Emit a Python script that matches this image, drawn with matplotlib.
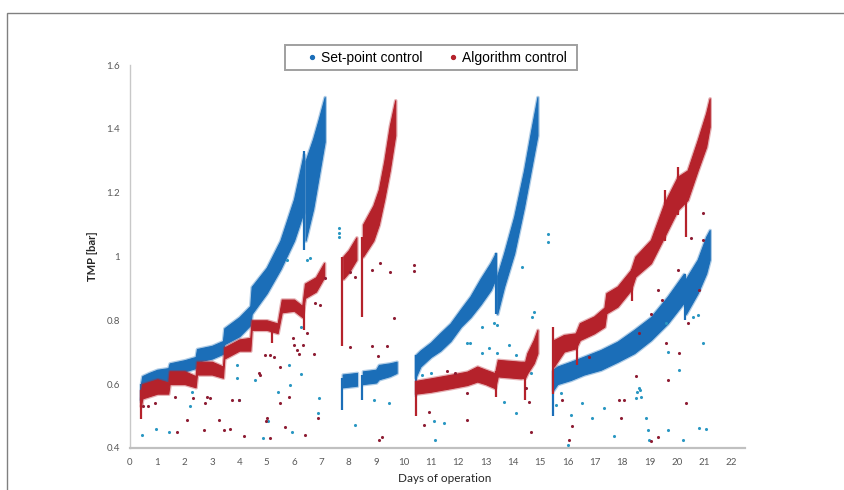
import numpy as np
import matplotlib
matplotlib.use("Agg")
import matplotlib.pyplot as plt
from matplotlib.lines import Line2D
from matplotlib.patches import Rectangle

# TMP bands: (day, lower edge, upper edge)
SP_RUN1A = [(0.40, 0.55, 0.60), (0.45, 0.59, 0.625), (0.7, 0.60, 0.635), (1.0, 0.605, 0.645),
            (1.4, 0.61, 0.65), (1.45, 0.63, 0.665), (2.0, 0.64, 0.675), (2.4, 0.65, 0.685),
            (2.45, 0.67, 0.71), (3.0, 0.68, 0.72), (3.4, 0.695, 0.735), (3.45, 0.725, 0.775),
            (4.0, 0.75, 0.81), (4.4, 0.785, 0.845), (4.45, 0.82, 0.905), (5.0, 0.885, 0.965),
            (5.5, 0.96, 1.05), (6.0, 1.05, 1.18), (6.35, 1.14, 1.32)]
SP_RUN1B = [(6.42, 1.05, 1.30), (6.7, 1.15, 1.37), (6.9, 1.25, 1.43), (7.12, 1.36, 1.50)]
SP_RUN2A = [(7.78, 0.59, 0.63), (8.0, 0.592, 0.632), (8.3, 0.595, 0.635)]
SP_RUN2B = [(8.52, 0.60, 0.64), (9.0, 0.605, 0.645), (9.1, 0.615, 0.66), (9.5, 0.625, 0.665),
            (9.75, 0.635, 0.67)]
SP_RUN3A = [(10.44, 0.62, 0.69), (10.62, 0.655, 0.705), (11.0, 0.685, 0.73), (11.35, 0.705, 0.76),
            (11.72, 0.735, 0.79), (12.1, 0.78, 0.835), (12.45, 0.81, 0.875), (12.82, 0.85, 0.93),
            (13.19, 0.895, 0.98), (13.37, 0.93, 1.01)]
SP_RUN3B = [(13.43, 0.82, 0.94), (13.68, 0.905, 1.01), (14.05, 1.01, 1.125), (14.41, 1.155, 1.27),
            (14.66, 1.27, 1.39), (14.9, 1.38, 1.50)]
SP_RUN4A = [(15.47, 0.58, 0.645), (15.63, 0.60, 0.655), (16.12, 0.613, 0.67), (16.6, 0.63, 0.686),
            (17.22, 0.645, 0.707), (17.83, 0.67, 0.733), (18.44, 0.697, 0.77), (19.05, 0.738, 0.81),
            (19.66, 0.79, 0.874), (20.25, 0.855, 0.945)]
SP_RUN4B = [(20.33, 0.82, 0.93), (20.76, 0.885, 0.99), (21.07, 0.947, 1.062), (21.2, 0.99, 1.083)]

AC_RUN1 = [(0.40, 0.53, 0.58), (0.45, 0.555, 0.60), (1.0, 0.57, 0.615), (1.4, 0.57, 0.605),
           (1.45, 0.60, 0.64), (2.0, 0.60, 0.64), (2.4, 0.59, 0.625), (2.45, 0.63, 0.67),
           (3.0, 0.63, 0.67), (3.4, 0.62, 0.655), (3.45, 0.68, 0.715), (4.0, 0.705, 0.74),
           (4.4, 0.705, 0.745), (4.45, 0.77, 0.80), (5.0, 0.77, 0.80), (5.4, 0.76, 0.79),
           (5.55, 0.825, 0.865), (6.0, 0.83, 0.865), (6.3, 0.81, 0.845), (6.4, 0.87, 0.915),
           (6.8, 0.89, 0.935), (7.1, 0.935, 0.98)]
AC_RUN2A = [(7.8, 0.93, 1.0), (8.0, 0.95, 1.02), (8.28, 0.99, 1.06)]
AC_RUN2B = [(8.52, 1.0, 1.10), (8.9, 1.05, 1.16), (9.1, 1.10, 1.21), (9.3, 1.18, 1.30),
            (9.5, 1.27, 1.41), (9.7, 1.38, 1.49)]
AC_RUN3 = [(10.45, 0.57, 0.61), (11.0, 0.576, 0.618), (11.72, 0.587, 0.629), (12.33, 0.597, 0.639),
           (12.7, 0.608, 0.655), (13.0, 0.60, 0.645), (13.35, 0.587, 0.634), (13.45, 0.624, 0.676),
           (14.29, 0.618, 0.67), (14.45, 0.62, 0.67), (14.53, 0.634, 0.697), (14.77, 0.666, 0.739),
           (14.9, 0.697, 0.77)]
AC_RUN4 = [(15.5, 0.655, 0.738), (15.87, 0.702, 0.754), (16.3, 0.712, 0.759), (16.45, 0.738, 0.791),
           (16.97, 0.759, 0.812), (17.35, 0.78, 0.84), (17.42, 0.822, 0.885), (17.83, 0.843, 0.906),
           (18.32, 0.895, 0.958), (18.48, 0.937, 1.0), (19.05, 0.979, 1.052), (19.54, 1.062, 1.167),
           (20.03, 1.146, 1.25), (20.39, 1.177, 1.27), (20.76, 1.27, 1.365), (21.07, 1.344, 1.45),
           (21.2, 1.407, 1.496)]

# vertical streaks (start-up and cleaning drops): (day, low, high)
SP_STREAKS = [(0.42, 0.54, 0.60), (6.38, 1.02, 1.33), (7.76, 0.52, 0.62), (8.5, 0.55, 0.63),
              (10.45, 0.56, 0.69), (13.4, 0.82, 1.01), (15.46, 0.50, 0.64), (20.28, 0.80, 0.945)]
AC_STREAKS = [(0.42, 0.49, 0.58), (5.2, 0.73, 0.79), (6.35, 0.77, 0.85), (7.77, 0.72, 1.0),
              (8.5, 0.81, 1.06), (10.45, 0.50, 0.61), (13.4, 0.56, 0.64), (14.45, 0.55, 0.66),
              (15.46, 0.57, 0.78), (16.35, 0.66, 0.76), (18.35, 0.86, 0.96), (19.55, 1.05, 1.21),
              (20.05, 1.13, 1.28), (20.35, 1.06, 1.25)]

# scattered single readings
SP_OUT_DAY = [0.43, 0.95, 1.44, 2.2, 2.26, 3.91, 3.91, 3.97, 4.58, 4.86, 5.04, 5.43, 5.8, 5.86,
              5.92, 5.98, 5.74, 6.25, 6.25, 6.86, 6.9, 6.47, 6.6, 7.63, 7.63, 7.63, 8.24, 8.91,
              9.46, 10.68, 10.99, 11.11, 11.48, 11.15, 12.33, 12.45, 12.88, 13.13, 13.43, 12.88,
              13.31, 13.43, 13.86, 14.1, 14.35, 14.71, 14.77, 14.65, 13.67, 14.1, 15.3, 15.3,
              15.57, 15.75, 16.12, 16.0, 16.54, 16.9, 17.34, 17.7, 18.5, 18.55, 18.6, 18.65,
              18.7, 18.87, 18.93, 18.99, 19.66, 20.58, 20.76, 20.94, 20.82, 21.06, 19.6, 19.66,
              20.09, 20.21]
SP_OUT_TMP = [0.44, 0.46, 0.45, 0.53, 0.576, 0.66, 0.618, 0.55, 0.613, 0.43, 0.483, 0.576, 0.66,
              0.597, 0.45, 0.84, 0.99, 0.778, 0.632, 0.508, 0.555, 0.99, 0.995, 1.09, 1.075, 1.06,
              0.472, 0.55, 0.54, 0.63, 0.634, 0.483, 0.478, 0.425, 0.728, 0.728, 0.697, 0.712,
              0.697, 0.78, 0.79, 0.785, 0.723, 0.69, 0.968, 0.81, 0.827, 0.634, 0.545, 0.509,
              1.072, 1.047, 0.535, 0.571, 0.503, 0.41, 0.54, 0.493, 0.525, 0.436, 0.555, 0.575,
              0.587, 0.58, 0.56, 0.493, 0.457, 0.425, 0.457, 0.81, 0.816, 0.728, 0.462, 0.459,
              0.79, 0.702, 0.645, 0.425]

AC_OUT_DAY = [0.49, 0.67, 0.92, 1.65, 1.73, 2.08, 2.32, 2.69, 2.75, 2.81, 2.93, 3.24, 3.45, 3.66,
              3.72, 4.0, 4.18, 4.7, 4.76, 4.95, 5.01, 4.97, 5.13, 5.13, 5.25, 5.5, 5.5, 5.68, 5.8,
              5.95, 5.98, 6.1, 6.17, 6.32, 6.47, 6.41, 6.78, 6.86, 6.96, 7.14, 6.72, 8.06, 8.24,
              8.85, 9.16, 9.52, 9.64, 8.06, 8.85, 9.07, 9.4, 9.1, 9.22, 10.37, 10.37, 10.74, 10.93,
              11.6, 11.9, 12.33, 12.33, 14.47, 14.59, 14.65, 15.81, 16.06, 16.18, 16.79, 17.89,
              18.07, 17.95, 18.5, 18.62, 19.05, 19.3, 19.47, 19.6, 19.66, 20.03, 20.33, 20.09,
              20.39, 20.82, 20.94, 20.94, 20.5, 19.05, 19.3]
AC_OUT_TMP = [0.53, 0.53, 0.54, 0.56, 0.45, 0.488, 0.555, 0.455, 0.54, 0.56, 0.555, 0.488, 0.455,
              0.46, 0.55, 0.55, 0.438, 0.634, 0.628, 0.69, 0.493, 0.483, 0.69, 0.43, 0.685, 0.654,
              0.54, 0.465, 0.56, 0.743, 0.722, 0.706, 0.695, 0.722, 0.76, 0.44, 0.854, 0.493,
              0.849, 0.932, 0.695, 0.953, 0.937, 0.958, 0.98, 0.953, 0.806, 0.716, 0.72, 0.688,
              0.72, 0.425, 0.435, 0.973, 0.956, 0.472, 0.514, 0.64, 0.634, 0.571, 0.488, 0.587,
              0.545, 0.451, 0.55, 0.425, 0.467, 0.686, 0.55, 0.55, 0.493, 0.624, 0.759, 0.82,
              0.895, 0.864, 0.728, 0.613, 0.958, 0.54, 0.697, 0.79, 0.895, 1.135, 1.052, 1.057,
              0.42, 0.435]

X_TICKS = list(range(0, 23))
Y_TICKS = [0.4, 0.6, 0.8, 1.0, 1.2, 1.4, 1.6]
Y_LABELS = ["0.4", "0.6", "0.8", "1", "1.2", "1.4", "1.6"]

BLUE = "#1b6eb8"
BLUE_PT = "#2a97c2"
RED = "#b5222b"
RED_PT = "#8e1d33"


def draw_band(ax, run, color, z):
    arr = np.array(run)
    # soft halo first, to mimic the fuzzy edge of the dense point cloud
    ax.fill_between(arr[:, 0], arr[:, 1], arr[:, 2], color=color, lw=2.6, ec=color,
                    alpha=0.35, zorder=z)
    ax.fill_between(arr[:, 0], arr[:, 1], arr[:, 2], color=color, lw=0.8, ec=color, zorder=z)


def draw_streaks(ax, streaks, color, z):
    arr = np.array(streaks)
    ax.vlines(arr[:, 0], arr[:, 1], arr[:, 2], color=color, lw=1.6, zorder=z)


fig = plt.figure(figsize=(8.44, 4.90), dpi=100)
ax = fig.add_axes([0.154, 0.086, 0.729, 0.781])

for run in [SP_RUN1A, SP_RUN1B, SP_RUN2A, SP_RUN2B, SP_RUN3A, SP_RUN3B, SP_RUN4A, SP_RUN4B]:
    draw_band(ax, run, BLUE, 2)
draw_streaks(ax, SP_STREAKS, BLUE, 2)
ax.scatter(SP_OUT_DAY, SP_OUT_TMP, s=5, color=BLUE_PT, lw=0, zorder=3)

for run in [AC_RUN1, AC_RUN2A, AC_RUN2B, AC_RUN3, AC_RUN4]:
    draw_band(ax, run, RED, 4)
draw_streaks(ax, AC_STREAKS, RED, 4)
ax.scatter(AC_OUT_DAY, AC_OUT_TMP, s=5, color=RED_PT, lw=0, zorder=5)

ax.set_xlim(0, 22.5)
ax.set_ylim(0.4, 1.6)
ax.set_xticks(X_TICKS)
ax.set_yticks(Y_TICKS)
ax.set_yticklabels(Y_LABELS)
ax.tick_params(length=0, labelsize=7, labelcolor="#595959", pad=7)
for lab in ax.get_xticklabels() + ax.get_yticklabels():
    lab.set_family("Lato")

for s in ["top", "right"]:
    ax.spines[s].set_visible(False)
ax.spines["left"].set_color("#c8c8c8")
ax.spines["left"].set_linewidth(1.0)
ax.spines["bottom"].set_color("#c0c0c0")
ax.spines["bottom"].set_linewidth(1.6)

ax.set_xlabel("Days of operation", fontsize=8.5, family="Lato", color="#262626")
ax.xaxis.set_label_coords(0.512, -0.066)
ax.set_ylabel("TMP [bar]", fontsize=8, family="Lato", weight="bold", color="#262626")
ax.yaxis.set_label_coords(-0.052, 0.5)

# legend box drawn separately so its padding matches the reference
fig.patches.append(Rectangle((285 / 844, 1 - 70 / 490), 292 / 844, 25 / 490,
                             transform=fig.transFigure, fill=False, ec="#a0a0a0", lw=1.4))
handles = [Line2D([], [], ls="none", marker="o", ms=2.8, color=BLUE),
           Line2D([], [], ls="none", marker="o", ms=2.8, color=RED)]
leg = fig.legend(handles, ["Set-point control", "Algorithm control"], loc="center left",
                 bbox_to_anchor=(306 / 844, 1 - 58 / 490), ncol=2, frameon=False,
                 handlelength=0.8, handletextpad=0.25, columnspacing=1.8, borderpad=0.0,
                 borderaxespad=0.0, prop={"family": "Liberation Sans", "size": 10})

# outer frame of the figure panel
fig.patches.append(Rectangle((7 / 844, -0.1), 1.2, 1.1 - 13 / 490, transform=fig.transFigure,
                             fill=False, ec="#808080", lw=1.0))

fig.savefig("out.png", dpi=100)
